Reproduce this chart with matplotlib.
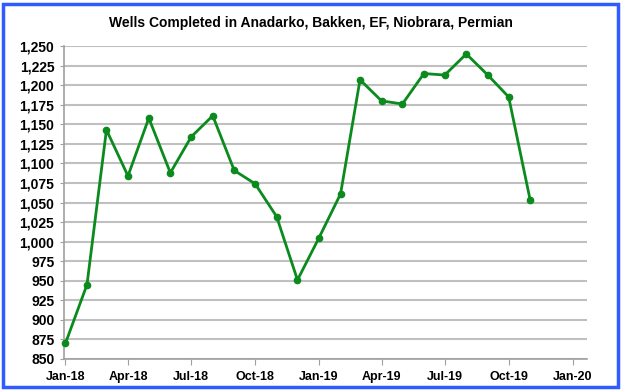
import matplotlib
matplotlib.use("Agg")
import matplotlib.pyplot as plt
import matplotlib.dates as mdates
from matplotlib.patches import Rectangle
from matplotlib.ticker import FuncFormatter
import pandas as pd

# monthly well completions, Jan-18 .. Nov-19
months = pd.date_range("2018-01-01", "2019-11-01", freq="MS")
wells = [870, 945, 1143, 1084, 1158, 1088, 1134, 1161, 1091, 1074, 1032, 951,
         1005, 1061, 1207, 1180, 1176, 1215, 1213, 1240, 1213, 1185, 1053]
tick_dates = pd.date_range("2018-01-01", "2020-01-01", freq="3MS")

plt.rcParams['font.family'] = ['Liberation Sans', 'DejaVu Sans']
plt.rcParams['font.weight'] = 'bold'

fig = plt.figure(figsize=(6.22, 3.91), dpi=100)
ax = fig.add_axes([0.103, 0.082, 0.841, 0.800])

ax.plot(months, wells, color='#0b8a1e', lw=2.0, marker='o', ms=4.5, zorder=3, clip_on=False)

ax.set_ylim(850, 1250)
ax.set_yticks(range(850, 1251, 25))
ax.yaxis.set_major_formatter(FuncFormatter(lambda v, p: f"{int(v):,}"))
ax.set_xlim(pd.Timestamp("2017-12-30"), pd.Timestamp("2020-01-22"))
ax.set_xticks(tick_dates)
ax.xaxis.set_major_formatter(mdates.DateFormatter("%b-%y"))

ax.grid(axis='y', color='#c0c0c0', lw=1.5)
ax.set_axisbelow(True)
for s in ['top', 'right']:
    ax.spines[s].set_visible(False)
for s in ['left', 'bottom']:
    ax.spines[s].set_color('#a0a0a0')
    ax.spines[s].set_linewidth(1.2)
ax.tick_params(axis='y', labelsize=10, length=3, color='#a0a0a0', pad=4)
ax.tick_params(axis='x', labelsize=9, length=4, color='#a0a0a0', pad=5)

fig.text(0.5, 0.94, "Wells Completed in Anadarko, Bakken, EF, Niobrara, Permian",
         ha='center', va='center', fontsize=10, fontweight='bold')

# blue frame round the chart
fig.patches.append(Rectangle((3/622, 4/391), 615/622, 383/391, transform=fig.transFigure,
                             fill=False, edgecolor='#2f5bff', lw=2.5))

fig.savefig("out.png", dpi=100)
